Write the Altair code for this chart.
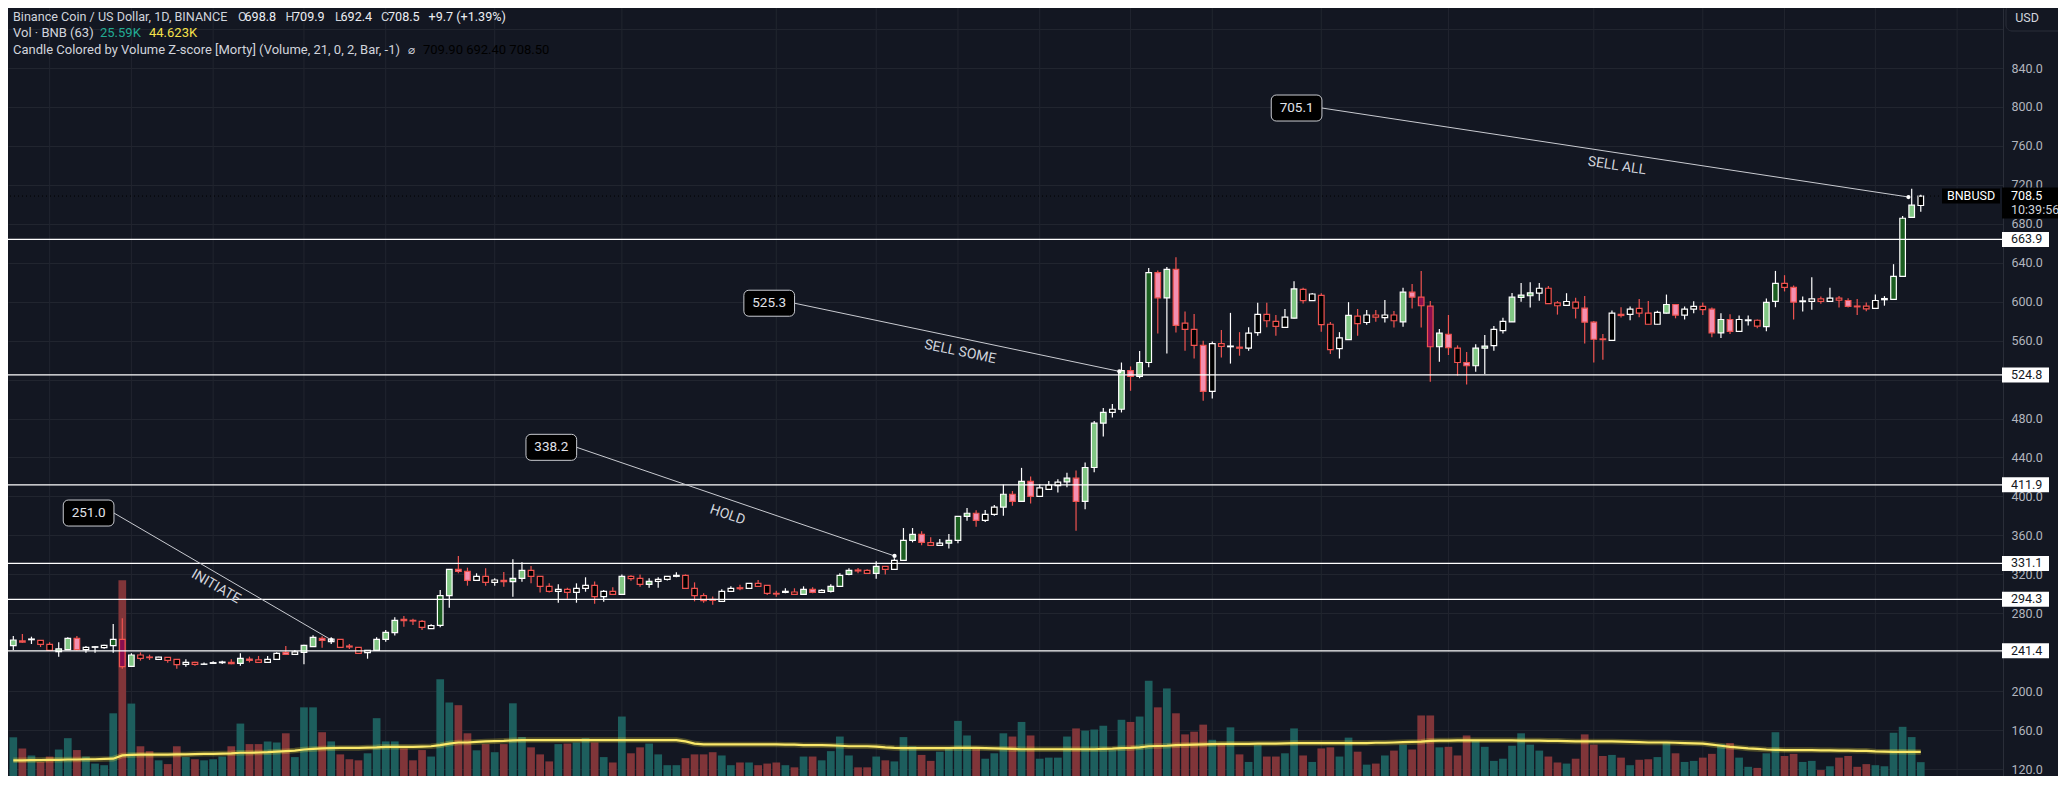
import altair as alt
import pandas as pd

# ---------------- data ----------------
opens = [
246.7,251.5,252.8,252.1,248.0,240.5,242.6,254.2,242.6,245.0,
244.6,246.7,253.2,225.4,237.1,235.0,232.6,234.7,232.6,227.5,
229.5,227.5,228.5,229.2,229.5,228.5,233.0,232.0,229.5,232.6,
239.8,237.7,239.8,245.6,254.2,250.8,253.2,246.3,245.0,239.5,
241.9,253.2,260.0,273.7,272.7,271.7,264.1,267.6,298.0,325.1,
323.0,313.8,317.9,311.7,313.8,312.4,315.8,324.0,317.9,307.6,
302.5,304.5,301.4,305.6,308.6,297.0,302.5,299.4,317.9,315.8,
309.7,312.7,314.8,317.9,318.9,305.6,298.0,294.2,292.2,302.5,
306.2,305.6,310.7,308.6,300.4,301.4,301.8,299.4,304.5,301.4,
302.5,307.6,319.9,324.4,324.0,321.0,328.2,325.1,334.3,354.9,
361.0,352.6,349.7,351.9,354.9,379.4,382.7,375.4,381.6,389.0,
402.2,394.8,415.4,400.0,407.3,411.0,415.0,418.7,394.8,429.7,
475.2,486.2,489.5,529.1,523.2,537.5,629.9,603.9,633.2,577.9,
571.6,555.1,507.8,557.0,553.7,553.3,552.2,568.3,587.0,579.7,
573.5,583.0,612.7,601.0,606.5,576.8,551.8,561.0,585.2,578.6,
586.3,583.7,586.3,579.3,609.8,604.6,595.5,553.7,566.5,552.2,
537.5,534.2,552.2,554.8,570.2,579.3,604.3,606.1,608.7,613.8,
598.8,596.2,599.5,593.3,578.9,561.8,560.2,587.0,587.0,593.1,
588.2,576.8,588.2,597.1,586.2,592.3,595.1,592.3,567.9,581.7,
569.5,580.5,580.9,574.4,600.4,618.7,614.6,600.0,600.4,602.8,
600.4,603.6,601.2,595.5,595.5,593.1,602.0,602.4,626.0,686.5,
698.8]
highs = [
256.6,258.6,255.9,252.4,250.1,250.1,255.2,256.6,246.3,246.3,
247.7,268.9,274.8,238.8,239.8,237.4,235.4,235.0,232.9,232.6,
230.2,229.5,230.6,231.3,232.6,238.8,235.4,236.1,236.1,239.8,
246.3,242.2,247.7,257.3,256.3,255.2,253.5,248.4,245.3,242.2,
255.2,262.8,275.8,277.2,274.4,273.0,268.6,303.8,325.4,338.7,
326.8,321.0,326.1,315.8,322.3,335.4,332.3,328.5,318.2,310.7,
309.7,306.2,310.7,316.9,312.7,303.8,306.6,319.9,318.9,319.9,
315.8,316.9,318.2,322.0,319.9,311.7,300.4,297.3,304.5,307.6,
309.3,311.0,314.1,308.9,303.2,305.6,305.6,307.6,306.6,304.5,
309.7,321.0,326.1,326.4,325.1,333.3,328.5,336.4,367.5,367.5,
364.1,358.1,356.3,361.4,379.7,388.2,385.7,386.0,391.2,412.1,
405.5,429.3,420.5,412.4,415.7,417.6,424.2,426.7,434.8,477.4,
490.9,495.0,537.5,533.5,549.3,634.7,632.1,635.5,645.7,590.0,
587.4,559.9,559.2,570.9,588.5,568.7,573.8,598.8,598.8,586.3,
592.5,621.1,614.2,609.0,608.7,579.0,568.7,599.5,592.5,591.4,
591.4,601.7,590.3,614.2,618.2,631.4,600.6,572.0,586.3,555.1,
548.2,556.2,565.8,574.9,583.4,609.0,619.3,620.0,619.3,616.0,
600.6,608.7,603.9,605.7,580.1,566.7,591.0,594.3,595.1,602.8,
600.8,590.6,607.3,597.4,595.1,600.4,599.2,593.9,588.2,587.0,
585.8,585.8,581.7,603.2,631.6,627.2,616.6,605.2,625.1,605.2,
614.2,605.7,603.6,602.8,599.2,607.3,605.7,638.5,688.1,716.0,
709.9]
lows = [
242.2,249.7,248.4,245.3,241.5,235.4,242.3,241.5,239.5,239.5,
243.6,239.5,223.0,225.1,231.3,232.0,232.3,229.2,223.0,225.1,
226.1,227.2,227.8,227.8,227.5,226.1,229.5,229.2,229.2,232.3,
237.4,237.4,227.5,245.3,244.6,248.4,244.7,243.2,238.5,233.3,
241.6,250.8,257.0,266.2,267.9,262.8,263.8,265.5,285.7,321.0,
308.3,313.5,308.3,308.3,307.3,297.0,312.4,310.7,301.4,301.4,
290.8,294.9,290.8,302.1,289.8,291.9,299.1,299.1,313.4,307.3,
306.2,306.2,313.5,316.9,305.3,292.2,290.8,288.8,291.9,302.2,
303.5,305.3,307.3,298.7,297.0,300.4,299.1,299.1,300.4,301.1,
301.4,307.3,318.9,321.0,320.7,315.5,319.9,324.8,334.0,352.8,
349.7,349.4,349.4,346.4,351.9,375.0,368.8,373.6,380.2,380.2,
390.4,394.5,392.6,399.7,407.0,404.0,409.5,364.8,386.8,424.9,
461.6,481.0,486.2,508.5,521.4,532.7,567.2,546.7,568.3,549.6,
541.6,498.3,500.5,542.7,536.4,544.5,549.6,565.0,573.8,565.0,
573.2,582.7,598.0,600.7,569.1,546.3,541.6,560.7,565.0,576.4,
579.3,578.6,573.5,574.2,592.9,573.5,517.7,538.3,545.2,524.0,
514.8,528.0,525.8,549.6,567.2,579.0,599.9,594.0,601.0,597.7,
586.7,595.9,582.6,557.0,537.4,540.3,559.9,583.7,580.9,584.1,
576.5,576.5,587.9,582.9,581.7,588.2,586.2,563.4,562.6,566.7,
569.2,575.6,572.8,569.5,594.3,610.5,581.7,589.8,591.8,597.9,
600.1,593.9,593.9,586.2,590.2,592.8,595.9,602.1,625.7,686.2,
692.4]
closes = [
252.5,250.4,253.5,248.0,241.9,243.3,254.2,242.6,245.0,245.6,
247.0,253.2,225.1,237.1,233.7,234.4,235.0,231.6,227.2,229.5,
227.5,227.8,229.2,229.9,228.2,233.7,231.6,229.5,232.6,238.8,
237.7,240.2,247.0,255.2,252.1,253.5,245.0,245.3,238.8,241.9,
253.2,260.4,272.7,272.3,272.0,265.5,267.2,298.0,325.1,323.0,
313.8,317.9,311.7,314.1,312.4,315.8,324.0,317.9,307.6,302.5,
304.5,301.4,305.6,308.6,297.0,302.5,299.4,317.9,315.5,309.7,
312.7,314.8,317.9,318.9,305.6,298.0,292.9,293.2,302.5,305.6,
305.2,310.7,307.6,300.4,299.7,302.5,299.4,304.5,301.4,303.5,
307.6,318.9,324.0,323.4,321.0,328.2,325.1,334.3,354.9,361.0,
352.8,349.7,351.9,354.9,379.4,382.7,375.4,381.6,389.0,402.2,
394.8,415.4,400.0,408.8,411.7,414.6,418.7,394.8,429.7,475.2,
486.2,489.5,529.1,523.2,537.5,629.9,603.9,633.2,575.7,571.6,
555.1,507.8,557.0,554.0,554.4,552.2,567.6,587.0,580.4,574.6,
584.1,613.1,601.0,607.9,576.4,550.7,562.8,585.9,577.5,586.3,
584.1,586.3,580.4,609.8,604.6,595.8,553.7,567.6,552.9,537.5,
534.2,552.2,554.4,571.6,579.7,604.6,606.8,609.0,613.8,598.0,
595.8,600.2,593.3,579.0,561.4,561.0,588.2,585.8,592.3,588.2,
576.8,589.0,597.1,586.2,592.3,595.1,591.9,567.9,581.7,569.5,
581.7,581.3,574.8,599.2,618.7,614.6,599.6,600.8,602.8,600.4,
603.6,601.6,595.1,594.7,592.7,601.2,603.2,626.0,685.7,699.1,
708.5]
volumes_k = [
71.6,51,38,26,36,49,70,48,36,23,
20,116,362,134,55,46,29,22,55,35,
31,29,31,36,55,97,59,59,64,62,
79,35,127,127,81,64,40,31,29,42,
107,64,64,51,29,48,36,179,136,131,
79,47.5,59,44,59,134.5,72,53,40,27,
59,60,62,70,62,35,25,110,42,53,
60,40,20,20,33,40,40,44,38,20,
25,25,20,23,25,20,16,36,36,29,
46,73,38,16,16,36,29,27,72,55,
39,28,45,50,102,75,54,32,42,79,
73,100,75,32,34,34,73,88,84,86,
93,48,104,100,110,176,127,162,116,77,
82,95,67,58,90,40,26,57,36,36,
42,88,38,26,51,53,36,71,45,21,
23,38,47,58,49,112,112,53,54,38,
75,67,54,28,32,56,79,58,47,36,
25,23,32,77,58,37,39,34,20,30,
31,35,62,42,26,28,34,41,59,61,
34,17,15,42,81,37,41,26,28,11,
18,34,37,17,22,20,18,80,91,72,
25.59]
vol_ma_k = (
[29,29,29.5,29.5,30,30,30.5,30.5,31,31,31.5,32] +
[38,39,39.5,39.5,39.5,39.5,40,40,40.5] +
[41,41,41.5,42,43,43,43.5,44,45,46,47] +
[49,50,51,51.5,52,52,52,52.5,53] +
[54,54,54,54,54.5,55,57,60,62,62] +
[63,64,64.5,65,66,66.5,66.5,66.5,66.5,66.5] +
[66.5,66.5,66.5,66.5,66.5,66.5,66.5,66.5,66.5,66.5,66.5,66.5,66.5] +
[64,60,58.5,58.5,58.5,58.5,58.5,58.5,58.5,58.5,58.5,58,58] +
[57,57,57,56.5,56,55,55,55,54.5,53,52,51.5,51.5] +
[51.5,51.5,51.5,51.5,52,52,52,51.5,51,50.5] +
[50,49.5,49.5,49.5,49.5,49.5,49.5,49.5,49.5,49.5,50,50.5] +
[51.5,52,53,55,55.5,56,57,57.5,58,58.5] +
[59,59.5,59.5,59.5,59.5,60,60,60,60.5] +
[61,61,61,61,61,61,61,61,61,61.5,61.5,62,62.5] +
[63,63.5,65,65.5,65.5,66,66,66,66,66,66,66,65.5,65.5,65.5,65,65,64.5] +
[64,64,64,64,64,63.5,63,62.5,62,62,62,61.5,61,60.5,60] +
[58,56,54,52.5,51,50,49,48.5,48,48,48,48,47.5,47.5,47,47,46.5,46.5] +
[45.5,45,44.8,44.7,44.6,44.623])
# volume z-score class read from candle fill: 0 = hollow, 1 = light, 2 = dark
zscore_class = [
1,0,0,0,0,1,1,1,0,0, 0,2,2,1,0,0,0,0,0,0, 0,0,0,0,1,1,1,0,0,0,
1,0,1,1,1,0,0,0,0,0, 1,1,1,0,0,0,0,2,1,1, 1,0,0,0,0,1,1,0,0,0,
0,0,0,0,0,0,0,1,0,0, 1,0,0,0,0,0,0,0,0,0, 0,0,0,0,0,0,0,1,1,0,
1,2,1,0,0,1,0,0,2,1, 1,0,0,1,2,1,1,0,0,1, 1,1,1,0,0,0,1,1,1,1,
1,0,1,1,1,2,1,1,1,0, 0,1,0,0,0,0,0,0,0,0, 0,1,0,0,0,0,0,1,0,0,
0,0,0,1,1,2,2,1,1,0, 1,1,1,0,0,1,1,1,0,0, 0,0,0,1,1,0,0,0,0,0,
0,0,1,1,0,0,0,1,1,1, 0,0,0,1,2,0,1,0,0,0, 0,0,1,0,0,0,0,2,2,1,
0]

levels = [663.9, 524.8, 411.9, 331.1, 294.3, 241.4]
price_ticks = [120, 160, 200, 240, 280, 320, 360, 400, 440, 480, 520, 560,
               600, 640, 680, 720, 760, 800, 840, 880]
hidden_ticks = [520, 880]   # covered by the 524.8 tag / the USD button
time_grid = [4, 13, 22, 32, 41, 53, 67, 84, 95, 104, 113, 123, 132, 144,
             158, 174, 186, 195, 205, 214]
last_price = 708.5

callout_value = ["251.0", "338.2", "525.3", "705.1"]
callout_box_i = [8.29, 59.23, 83.22, 141.28]
callout_box_p = [382.9, 450.4, 598.4, 798.9]
callout_end_i = [35.02, 97.02, 121.77, 208.64]
callout_end_p = [252.5, 338.8, 528.4, 707.5]
callout_text = ["INITIATE", "HOLD", "SELL SOME", "SELL ALL"]
callout_text_i = [22.31, 78.62, 104.25, 176.55]
callout_text_p = [307.2, 380.9, 548.3, 739.3]
callout_angle = [30.0, 18.8, 11.7, 8.6]

n = len(opens)
for arr in (highs, lows, closes, volumes_k, vol_ma_k, zscore_class):
    assert len(arr) == n, (len(arr), n)

# ---------------- layout / style ----------------
W, H = 1995, 768
PX_PER_UNIT = 0.9736
P_TOP = 120 + 761 / PX_PER_UNIT
P_BOT = 120 + (761 - H) / PX_PER_UNIT
STEP = 9.129
X_MIN = -0.3 / STEP
X_MAX = (W - 0.3) / STEP
K_PER_PX = 1.85

BG = "#131722"
GRID = "#21252f"
FONT = "Roboto"
TXT = "#d1d4dc"
UP_EDGE = "#ffffff"
DN_EDGE = "#ef5350"

xs = alt.Scale(domain=[X_MIN, X_MAX], nice=False, zero=False)
ps = alt.Scale(domain=[P_BOT, P_TOP], nice=False, zero=False)
vs = alt.Scale(domain=[0, H * K_PER_PX], nice=False, zero=False)


def X(field):
    return alt.X(field, type="quantitative", scale=xs, axis=None)


def YP(field, axis=None):
    return alt.Y(field, type="quantitative", scale=ps, axis=axis)


df = pd.DataFrame({"i": list(range(n)), "o": opens, "h": highs, "l": lows,
                   "c": closes, "v": volumes_k, "ma": vol_ma_k, "z": zscore_class})

base = alt.Chart(df).transform_calculate(
    edge=f"datum.c >= datum.o ? '{UP_EDGE}' : '{DN_EDGE}'",
    body="datum.z == 0 ? '#000000' : (datum.c >= datum.o ? (datum.z == 2 ? '#1b5e20' : '#81c784') : (datum.z == 2 ? '#880e4f' : '#f48fb1'))",
    vcol="datum.c >= datum.o ? '#1d5e5d' : '#803539'",
)

hidden_expr = " || ".join(f"datum.value == {v}" for v in hidden_ticks)
price_axis = alt.Axis(
    orient="right", values=price_ticks,
    labelExpr=f"({hidden_expr}) ? '' : format(datum.value, '.1f')",
    ticks=False, labelPadding=8, labelColor="#b2b5be", labelFont=FONT,
    labelFontSize=12.5, labelAlign="left", labelBaseline="middle",
    grid=True, gridColor=GRID, gridWidth=1,
    domain=True, domainColor="#2a2e39", domainWidth=1, title=None,
)

layers = []

# vertical time grid
layers.append(
    alt.Chart(pd.DataFrame({"g": time_grid})).mark_rule(color=GRID, strokeWidth=1)
    .encode(x=X("g"))
)

# volume bars + MA
layers.append(
    base.mark_bar(size=7.7).encode(
        x=X("i"), y=alt.Y("v:Q", scale=vs, axis=None),
        color=alt.Color("vcol:N", scale=None))
)
layers.append(
    base.mark_line(color="#ffeb3b", strokeWidth=5.5, opacity=0.25).encode(
        x=X("i"), y=alt.Y("ma:Q", scale=vs, axis=None))
)
layers.append(
    base.mark_line(color="#fbe96a", strokeWidth=2.2).encode(
        x=X("i"), y=alt.Y("ma:Q", scale=vs, axis=None))
)

# candles
layers.append(
    base.mark_rule(strokeWidth=1.2).encode(
        x=X("i"), y=YP("l"), y2="h:Q", color=alt.Color("edge:N", scale=None))
)
layers.append(
    base.mark_bar(size=5.6, strokeWidth=1.2).encode(
        x=X("i"), y=YP("o"), y2="c:Q",
        fill=alt.Fill("body:N", scale=None), stroke=alt.Stroke("edge:N", scale=None))
)

# horizontal levels (carry the price axis)
lv = alt.Chart(pd.DataFrame({"level": levels}))
layers.append(lv.mark_rule(color="#ffffff", strokeWidth=1.3).encode(y=YP("level", price_axis)))

# last price dotted line
lp = alt.Chart(pd.DataFrame({"p": [last_price]}))
layers.append(lp.mark_rule(color="#000000", strokeWidth=1, strokeDash=[1, 3]).encode(y=YP("p")))

# callouts
cdf = pd.DataFrame({
    "lab": callout_value, "bx": callout_box_i, "bp": callout_box_p,
    "ex": callout_end_i, "ep": callout_end_p, "txt": callout_text,
    "tx": callout_text_i, "tp": callout_text_p, "ang": callout_angle})
cb = alt.Chart(cdf).transform_calculate(
    sx="datum.bx + 2.79", x1="datum.bx - 2.79", x2="datum.bx + 2.79",
    y1="datum.bp - 13.35", y2="datum.bp + 13.35")
layers.append(cb.mark_rule(color="#c9cbd1", strokeWidth=1).encode(
    x=X("sx"), y=YP("bp"), x2="ex:Q", y2="ep:Q"))
layers.append(cb.mark_circle(size=18, color="#ffffff", opacity=1).encode(x=X("ex"), y=YP("ep")))
layers.append(cb.mark_rect(fill="#000000", stroke="#c9cbd1", strokeWidth=1, cornerRadius=5).encode(
    x=X("x1"), x2="x2:Q", y=YP("y1"), y2="y2:Q"))
layers.append(cb.mark_text(color="#e0e3eb", font=FONT, fontSize=13.5, baseline="middle").encode(
    x=X("bx"), y=YP("bp"), text="lab:N"))
layers.append(cb.mark_text(color=TXT, font=FONT, fontSize=14, baseline="middle", align="center").encode(
    x=X("tx"), y=YP("tp"), text="txt:N", angle=alt.Angle("ang:Q", scale=None)))

# level labels on the price scale
lvb = lv.transform_calculate(lo="datum.level - 7.7", hi="datum.level + 7.7")
layers.append(lvb.mark_rect(color="#ffffff").encode(
    x=alt.value(W - 1), x2=alt.value(W + 46), y=YP("lo"), y2="hi:Q"))
layers.append(lv.mark_text(color="#131722", font=FONT, fontSize=12.5, align="left", baseline="middle").encode(
    x=alt.value(W + 8), y=YP("level"), text=alt.Text("level:Q", format=".1f")))

# last price tags
lpb = lp.transform_calculate(lo="datum.p - 23.1", hi="datum.p + 8.7",
                             lo2="datum.p - 7.7", hi2="datum.p + 7.7")
layers.append(lpb.mark_rect(color="#000000").encode(
    x=alt.value(W - 1), x2=alt.value(W + 64), y=YP("lo"), y2="hi:Q"))
layers.append(lpb.mark_rect(color="#000000").encode(
    x=alt.value(W - 61), x2=alt.value(W - 3), y=YP("lo2"), y2="hi2:Q"))
layers.append(lp.mark_text(color="#ffffff", font=FONT, fontSize=12.5, align="center", baseline="middle", text="BNBUSD").encode(
    x=alt.value(W - 32), y=YP("p")))
layers.append(lp.mark_text(color="#ffffff", font=FONT, fontSize=12.5, align="left", baseline="middle").encode(
    x=alt.value(W + 8), y=YP("p"), text=alt.Text("p:Q", format=".1f")))
layers.append(lp.mark_text(color=TXT, font=FONT, fontSize=12.5, align="left", baseline="middle", dy=14, text="10:39:56").encode(
    x=alt.value(W + 8), y=YP("p")))

# USD box
one = pd.DataFrame({"k": [0]})
layers.append(alt.Chart(one).mark_rect(fill=BG, stroke="#2a2e39", strokeWidth=1, cornerRadius=6).encode(
    x=alt.value(W + 3), x2=alt.value(W + 70), y=alt.value(-3), y2=alt.value(23)))
layers.append(alt.Chart(one).mark_text(color=TXT, font=FONT, fontSize=12.5, align="center", baseline="middle", text="USD").encode(
    x=alt.value(W + 24), y=alt.value(9.5)))

# header legend (text, x, y, colour, font, size)
header = [
    ("Binance Coin / US Dollar, 1D, BINANCE", 5, 8.7, TXT, FONT, 12.6),
    ("O", 230, 8.7, TXT, FONT, 12.6), ("698.8", 236.5, 8.7, "#eceef3", FONT, 12.6),
    ("H", 277.5, 8.7, TXT, FONT, 12.6), ("709.9", 285, 8.7, "#eceef3", FONT, 12.6),
    ("L", 327, 8.7, TXT, FONT, 12.6), ("692.4", 332.5, 8.7, "#eceef3", FONT, 12.6),
    ("C", 373, 8.7, TXT, FONT, 12.6), ("708.5", 380, 8.7, "#eceef3", FONT, 12.6),
    ("+9.7 (+1.39%)", 420.5, 8.7, "#eceef3", FONT, 12.6),
    ("Vol · BNB (63)", 5, 25.3, TXT, FONT, 13),
    ("25.59K", 92, 25.3, "#22ab94", FONT, 13),
    ("44.623K", 141, 25.3, "#f5e14a", FONT, 13),
    ("Candle Colored by Volume Z-score [Morty] (Volume, 21, 0, 2, Bar, -1)", 5, 42, TXT, FONT, 13),
    ("\u2300", 400, 42, TXT, "DejaVu Sans", 12),
    ("709.90  692.40  708.50", 415, 42, "#000000", FONT, 13),
]
for t, hx, hy, col, fnt, fs in header:
    layers.append(alt.Chart(one).mark_text(color=col, font=fnt, fontSize=fs, align="left",
                                           baseline="middle", text=t).encode(
        x=alt.value(hx), y=alt.value(hy)))

chart = alt.layer(*layers).resolve_scale(y="independent").properties(
    width=W, height=H,
    padding={"left": 0, "top": 0, "right": 55, "bottom": 0},
    autosize=alt.AutoSizeParams(type="none"),
    background=BG,
).configure_view(strokeWidth=0)

chart.save("out.html", embed_options={"renderer": "svg", "actions": False})
